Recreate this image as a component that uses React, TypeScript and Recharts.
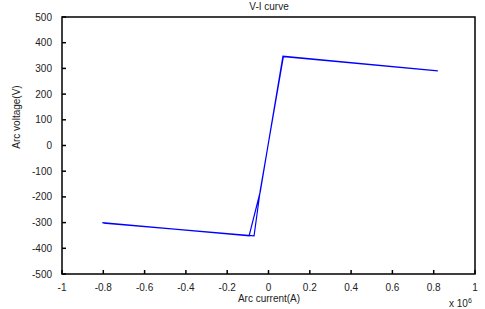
import { LineChart, Line, XAxis, YAxis, ReferenceArea } from "recharts";

// arc current in units of 1e6 A, arc voltage in V (hysteresis loop, in drawing order)
const CURRENT = [-0.805, -0.094, -0.04, 0.07, 0.82, 0.072, -0.04, -0.07, -0.8];
const VOLTAGE = [-300, -352, -180, 348, 290, 346, -175, -352, -302];

const X_TICKS = [-1, -0.8, -0.6, -0.4, -0.2, 0, 0.2, 0.4, 0.6, 0.8, 1];
const Y_TICKS = [-500, -400, -300, -200, -100, 0, 100, 200, 300, 400, 500];

const data = CURRENT.map((c, i) => ({ current: c, voltage: VOLTAGE[i] }));

const FONT = "'Liberation Sans', Arial, sans-serif";
const AXIS = "#000000";
const TICK_LEN = 4;
const X_GAP = 9;
const Y_GAP = 10;

// inward tick mark + label (matlab style box axes)
const BottomTick = (p: any) => {
  const c = p.payload.coordinate;
  const ay = p.y - X_GAP;
  return (
    <g>
      <line x1={c} x2={c} y1={ay} y2={ay - TICK_LEN} stroke={AXIS} strokeWidth={1.5} />
      <text x={c} y={p.y + 8} textAnchor="middle" fontSize={10} fontFamily={FONT} fill="#222">
        {String(p.payload.value)}
      </text>
    </g>
  );
};

const LeftTick = (p: any) => {
  const c = p.payload.coordinate;
  const ax = p.x + Y_GAP;
  return (
    <g>
      <line x1={ax} x2={ax + TICK_LEN} y1={c} y2={c} stroke={AXIS} strokeWidth={1.5} />
      <text x={p.x} y={c + 3.5} textAnchor="end" fontSize={10} fontFamily={FONT} fill="#222">
        {String(p.payload.value)}
      </text>
    </g>
  );
};

const TopTick = (p: any) => {
  const c = p.payload.coordinate;
  return <line x1={c} x2={c} y1={p.y} y2={p.y + TICK_LEN} stroke={AXIS} strokeWidth={1.5} />;
};

const RightTick = (p: any) => {
  const c = p.payload.coordinate;
  return <line x1={p.x - TICK_LEN} x2={p.x} y1={c} y2={c} stroke={AXIS} strokeWidth={1.5} />;
};

const textBase = {
  position: "absolute" as const,
  fontFamily: FONT,
  fontSize: 10,
  lineHeight: "10px",
  color: "#222",
  whiteSpace: "nowrap" as const,
};

export default function App() {
  return (
    <div style={{ position: "absolute", left: 0, top: 0, width: 485, height: 309, background: "#fff" }}>
      <LineChart width={485} height={309} data={data} margin={{ top: 17, right: 10, bottom: 0, left: 0 }}>
        <XAxis
          xAxisId="bottom" dataKey="current" type="number" domain={[-1, 1]} ticks={X_TICKS} interval={0}
          height={35} axisLine={false} tickLine={false} tickSize={0} tickMargin={X_GAP} tick={BottomTick}
        />
        <XAxis
          xAxisId="top" dataKey="current" type="number" orientation="top" domain={[-1, 1]} ticks={X_TICKS}
          interval={0} height={0} axisLine={false} tickLine={false} tickSize={0} tickMargin={0} tick={TopTick}
        />
        <YAxis
          yAxisId="left" type="number" domain={[-500, 500]} ticks={Y_TICKS} interval={0} width={62}
          axisLine={false} tickLine={false} tickSize={0} tickMargin={Y_GAP} tick={LeftTick}
        />
        <YAxis
          yAxisId="right" type="number" orientation="right" domain={[-500, 500]} ticks={Y_TICKS} interval={0}
          width={0} axisLine={false} tickLine={false} tickSize={0} tickMargin={0} tick={RightTick}
        />
        <ReferenceArea
          xAxisId="bottom" yAxisId="left" x1={-1} x2={1} y1={-500} y2={500}
          fill="#ffffff" fillOpacity={0} stroke={AXIS} strokeWidth={1.5} ifOverflow="visible"
        />
        <Line
          xAxisId="bottom" yAxisId="left" type="linear" dataKey="voltage" stroke="#0000ff"
          strokeWidth={1.2} dot={false} isAnimationActive={false}
        />
      </LineChart>

      <div style={{ ...textBase, left: 269, top: 2, transform: "translateX(-50%)" }}>V-I curve</div>
      <div style={{ ...textBase, left: 269, top: 294, transform: "translateX(-50%)" }}>Arc current(A)</div>
      <div style={{ ...textBase, left: 449, top: 296 }}>
        x 10<sup style={{ fontSize: 7, verticalAlign: "4px" }}>6</sup>
      </div>
      <div
        style={{
          ...textBase,
          left: 17,
          top: 117,
          transform: "translate(-50%, -50%) rotate(-90deg)",
        }}
      >
        Arc voltage(V)
      </div>
    </div>
  );
}
